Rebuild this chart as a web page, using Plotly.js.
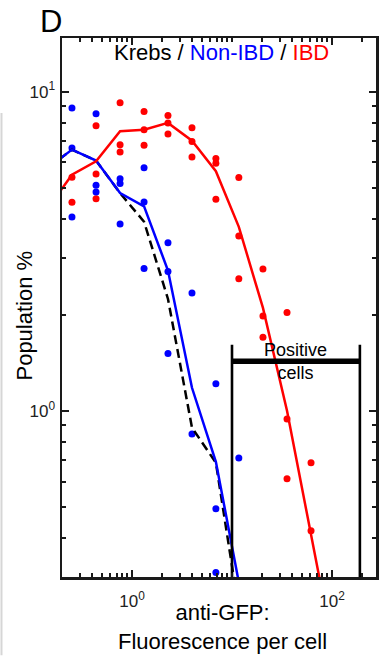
<!DOCTYPE html>
<html>
<head>
<meta charset="utf-8">
<script src="https://cdn.plot.ly/plotly-3.0.1.min.js"></script>
<style>
  html, body { margin: 0; padding: 0; background: #ffffff; }
  #chart { width: 382px; height: 662px; }
</style>
</head>
<body>
<div id="chart"></div>
<script>
// Log-spaced bin centres of fluorescence per cell (anti-GFP)
const binCentres = [0.145, 0.251, 0.437, 0.76, 1.32, 2.29, 3.98, 6.9, 11.7, 20.4, 35.5, 61.7, 107];

// Mean population (%) per bin for each group
const krebsLine  = [5.77, 6.58, 6.08, 4.81, 3.91, 2.24, 0.885, 0.687, 0.238];
const nonIbdLine = [5.77, 6.58, 6.08, 4.81, 4.37, 2.75, 1.18, 0.692, 0.29];
const ibdLine    = [4.32, 5.49, 6.05, 7.51, 7.6, 7.98, 7.02, 5.63, 3.77, 2.10, 1.0, 0.421, 0.168];

// Individual samples per bin (population %)
const nonIbdDots = [
  [],
  [8.89, 6.66, 4.05],
  [8.53, 5.09, 4.85],
  [5.33, 5.15, 3.85],
  [5.77, 4.51, 2.79],
  [3.36, 2.73, 1.51],
  [2.34, 0.845],
  [1.215, 0.493, 0.311],
  [0.711]
];
const ibdDots = [
  [],
  [5.39, 4.50],
  [7.82, 5.52, 4.62],
  [9.22, 6.82, 6.47],
  [8.67, 7.6, 6.79],
  [8.41, 7.98, 7.37],
  [7.70, 6.98, 6.24],
  [6.17, 5.96, 4.60],
  [5.38, 3.53, 2.59],
  [2.78, 1.98, 1.70],
  [2.03, 0.942, 0.612],
  [0.687, 0.421]
];

// Positive-cell gate (fluorescence bounds) and the height of its bracket
const gateLow = 10;
const gateHigh = 190;
const gateTop = 1.61;
const gateBar = 1.43;

// Axis ticks
const xTickVals = [1, 100];
const xTickText = ['10<sup>0</sup>', '10<sup>2</sup>'];
const yTickVals = [1, 10];
const yTickText = ['10<sup>0</sup>', '10<sup>1</sup>'];
const xMinorVals = [0.2, 0.3, 0.4, 0.5, 0.6, 0.7, 0.8, 0.9, 2, 3, 4, 5, 6, 7, 8, 9, 10,
                    20, 30, 40, 50, 60, 70, 80, 90, 200];
const yMinorVals = [0.3, 0.4, 0.5, 0.6, 0.7, 0.8, 0.9, 2, 3, 4, 5, 6, 7, 8, 9];

const BLUE = '#0000ff';
const RED = '#ff0000';
const FONT = 'Liberation Sans, Arial, Helvetica, sans-serif';

function flatten(groups) {
  const xs = [], ys = [];
  groups.forEach((vals, i) => vals.forEach(v => { xs.push(binCentres[i]); ys.push(v); }));
  return { x: xs, y: ys };
}
function lineOf(vals) {
  return { x: binCentres.slice(0, vals.length), y: vals };
}

const blueDots = flatten(nonIbdDots);
const redDots = flatten(ibdDots);

const traces = [
  { type: 'scatter', mode: 'markers', x: redDots.x, y: redDots.y,
    marker: { color: RED, size: 7 }, hoverinfo: 'skip' },
  { type: 'scatter', mode: 'markers', x: blueDots.x, y: blueDots.y,
    marker: { color: BLUE, size: 7 }, hoverinfo: 'skip' },
  Object.assign({ type: 'scatter', mode: 'lines',
    line: { color: '#000000', width: 2.5, dash: '9px,5px' } }, lineOf(krebsLine)),
  Object.assign({ type: 'scatter', mode: 'lines',
    line: { color: BLUE, width: 2.5 } }, lineOf(nonIbdLine)),
  Object.assign({ type: 'scatter', mode: 'lines',
    line: { color: RED, width: 2.5 } }, lineOf(ibdLine)),
  // gate bracket: two uprights and a bar
  { type: 'scatter', mode: 'lines',
    x: [gateLow, gateLow, null, gateHigh, gateHigh],
    y: [0.2, gateTop, null, 0.2, gateTop],
    line: { color: '#000000', width: 2.6 }, hoverinfo: 'skip' },
  { type: 'scatter', mode: 'lines',
    x: [gateLow, gateHigh], y: [gateBar, gateBar],
    line: { color: '#000000', width: 5.5 }, hoverinfo: 'skip' }
];

const axisCommon = {
  type: 'log',
  showline: true, linewidth: 2.5, linecolor: '#1a1a1a',
  mirror: 'ticks',
  ticks: 'inside', ticklen: 7, tickwidth: 2, tickcolor: '#1a1a1a',
  tickmode: 'array',
  showgrid: false, zeroline: false,
  tickfont: { family: FONT, size: 17, color: '#222222' },
  minor: { ticks: 'inside', ticklen: 4, tickwidth: 2, tickcolor: '#1a1a1a',
           tickmode: 'array', showgrid: false }
};

const layout = {
  width: 382, height: 662,
  margin: { l: 62, r: 6, t: 38, b: 85 },
  paper_bgcolor: '#ffffff', plot_bgcolor: '#ffffff',
  showlegend: false,
  font: { family: FONT, color: '#000000' },
  xaxis: Object.assign({}, axisCommon, {
    range: [-0.70, 2.44],
    tickvals: xTickVals, ticktext: xTickText,
    ticklabelstandoff: 7,
    minor: Object.assign({}, axisCommon.minor, { tickvals: xMinorVals })
  }),
  yaxis: Object.assign({}, axisCommon, {
    range: [-0.521, 1.168],
    tickvals: yTickVals, ticktext: yTickText,
    ticklabelstandoff: 1,
    minor: Object.assign({}, axisCommon.minor, { tickvals: yMinorVals })
  }),
  shapes: [
    { type: 'line', xref: 'paper', yref: 'paper',
      x0: -0.1927, x1: -0.1927, y0: 0.861, y1: -0.145,
      line: { color: '#d6d6d6', width: 2 } }
  ],
  annotations: [
    { xref: 'paper', yref: 'paper', x: -0.035, y: 1.030,
      xanchor: 'center', yanchor: 'middle', showarrow: false,
      text: 'D', font: { family: FONT, size: 31, color: '#000000' } },
    { xref: 'paper', yref: 'paper', x: 0.508, y: 0.974,
      xanchor: 'center', yanchor: 'middle', showarrow: false,
      text: 'Krebs / <span style="color:' + BLUE + '">Non-IBD</span> / <span style="color:' + RED + '">IBD</span>',
      font: { family: FONT, size: 22, color: '#000000' } },
    { xref: 'paper', yref: 'paper', x: -0.118, y: 0.485,
      xanchor: 'center', yanchor: 'middle', showarrow: false, textangle: -90,
      text: 'Population %', font: { family: FONT, size: 22, color: '#000000' } },
    { xref: 'paper', yref: 'paper', x: 0.51, y: -0.0928,
      xanchor: 'center', yanchor: 'middle', showarrow: false,
      text: 'anti-GFP:<br>Fluorescence per cell',
      font: { family: FONT, size: 22, color: '#000000' } },
    { xref: 'x', yref: 'y',
      x: (Math.log10(gateLow) + Math.log10(gateHigh)) / 2, y: Math.log10(gateBar),
      xanchor: 'center', yanchor: 'middle', showarrow: false,
      text: 'Positive<br>cells', font: { family: FONT, size: 18, color: '#000000' } }
  ]
};

Plotly.newPlot('chart', traces, layout, { staticPlot: true, displayModeBar: false });
</script>
</body>
</html>
